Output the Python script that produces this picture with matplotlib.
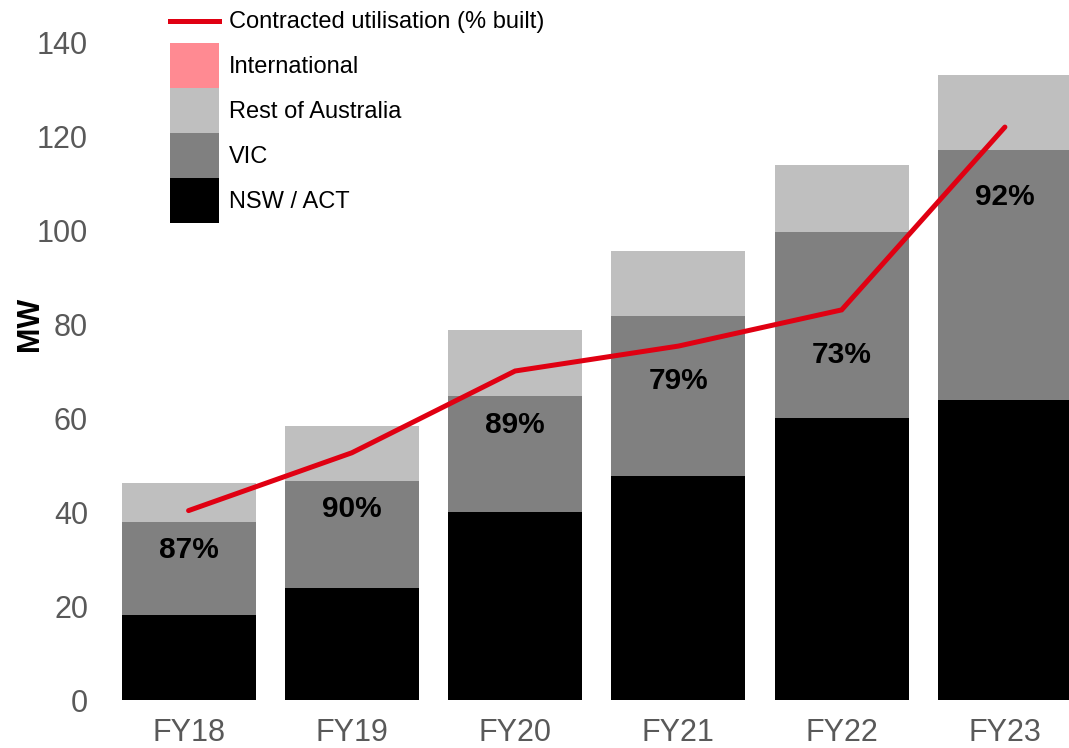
import matplotlib
matplotlib.use("Agg")
import matplotlib.pyplot as plt
import numpy as np
from matplotlib.patches import Patch
from matplotlib.lines import Line2D
from matplotlib.legend_handler import HandlerBase

plt.rcParams['font.family'] = ['Liberation Sans', 'DejaVu Sans']

years = ["FY18", "FY19", "FY20", "FY21", "FY22", "FY23"]
nsw_act = [18.1, 23.8, 40.0, 47.7, 59.9, 63.9]
vic = [19.8, 22.7, 24.7, 34.0, 39.7, 53.1]
rest_of_aus = [8.2, 11.8, 14.0, 13.9, 14.2, 16.0]
international = [0, 0, 0, 0, 0, 0]
utilisation_line = [40.3, 52.6, 70.0, 75.3, 83.0, 121.9]
util_labels = ["87%", "90%", "89%", "79%", "73%", "92%"]
label_y = [31.9, 40.6, 58.5, 67.9, 73.4, 107.0]

col_nsw = "#000000"
col_vic = "#808080"
col_roa = "#bfbfbf"
col_int = "#ff8a92"
col_line = "#e00012"
col_tick = "#595959"


class CentredLine(HandlerBase):
    # line drawn through the middle of the (tall) handle box
    def create_artists(self, legend, orig_handle, xdescent, ydescent,
                       width, height, fontsize, trans):
        y = height / 2 - ydescent
        l = Line2D([-xdescent, width - xdescent], [y, y],
                   color=orig_handle.get_color(), lw=orig_handle.get_linewidth(),
                   transform=trans)
        return [l]


W, H = 1069, 748
fig = plt.figure(figsize=(W / 100, H / 100), dpi=100)
ax = fig.add_axes([120 / W, (H - 700) / H, (W - 120) / W, 658 / H])

x = np.arange(len(years))
bw = 0.82
b1 = np.array(nsw_act)
b2 = b1 + np.array(vic)
b3 = b2 + np.array(rest_of_aus)
ax.bar(x, nsw_act, bw, color=col_nsw)
ax.bar(x, vic, bw, bottom=b1, color=col_vic)
ax.bar(x, rest_of_aus, bw, bottom=b2, color=col_roa)
ax.bar(x, international, bw, bottom=b3, color=col_int)

ax.plot(x, utilisation_line, color=col_line, lw=3.6, solid_capstyle="round",
        solid_joinstyle="miter", zorder=3)

for xi, yi, lab in zip(x, label_y, util_labels):
    ax.text(xi, yi, lab, ha="center", va="center", fontsize=21.5,
            fontweight="bold", color="black", zorder=4)

ax.set_xlim(-0.42, (W - 190) / 163.0)
ax.set_ylim(0, 140)
ax.set_yticks(range(0, 141, 20))
ax.set_xticks(x)
ax.set_xticklabels(years)
ax.tick_params(axis="both", length=0, labelsize=22, labelcolor=col_tick)
ax.tick_params(axis="y", pad=23)
ax.tick_params(axis="x", pad=13)
for s in ax.spines.values():
    s.set_visible(False)

fig.text(30 / W, 1 - 324 / H, "MW", rotation=90, ha="center", va="center",
         fontsize=22, fontweight="bold")

line_handle = Line2D([0], [0], color=col_line, lw=3.6)
handles = [
    line_handle,
    Patch(facecolor=col_int),
    Patch(facecolor=col_roa),
    Patch(facecolor=col_vic),
    Patch(facecolor=col_nsw),
]
labels = ["Contracted utilisation (% built)", "International",
          "Rest of Australia", "VIC", "NSW / ACT"]
fs = 17
em = fs * 100 / 72.0
hh = (45 / em - 0.245) / 0.65
leg = fig.legend(handles, labels, loc="upper left",
                 bbox_to_anchor=(170 / W, 1 + 2 / H), frameon=False,
                 fontsize=fs, handlelength=49 / em, handleheight=hh,
                 labelspacing=0, handletextpad=10 / em, borderpad=0,
                 borderaxespad=0, handler_map={line_handle: CentredLine()})

fig.savefig("out.png", dpi=100)
